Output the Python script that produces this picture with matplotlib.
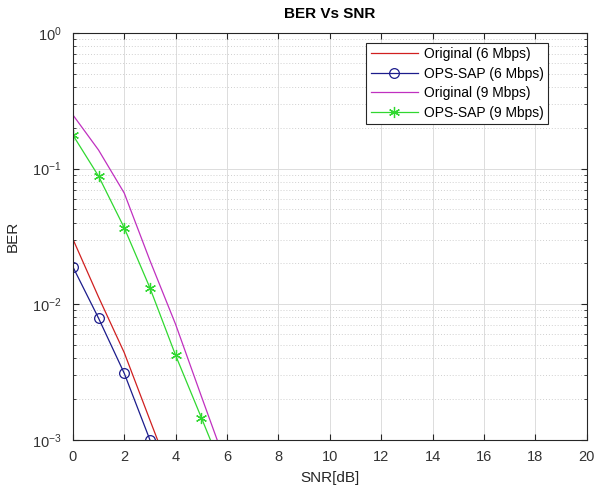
import matplotlib.pyplot as plt
from matplotlib.ticker import LogLocator, NullFormatter, FixedLocator

plt.rcParams['font.family'] = ['Liberation Sans', 'DejaVu Sans']
plt.rcParams['axes.unicode_minus'] = False
plt.rcParams['mathtext.fontset'] = 'custom'
plt.rcParams['mathtext.rm'] = 'Liberation Sans'

# SNR points (dB) and BER curves
snr = [0, 1, 2, 3, 4, 5, 6]
ber_orig_6 = [0.0303, 0.0113, 0.0044, 0.0014, 0.00045, 0.00015, 0.00005]
ber_ops_6 = [0.0189, 0.0079, 0.0031, 0.0010, 0.0003, 0.0001, 0.00003]
ber_orig_9 = [0.249, 0.137, 0.066, 0.021, 0.0071, 0.0021, 0.00063]
ber_ops_9 = [0.177, 0.088, 0.0366, 0.0132, 0.0042, 0.00146, 0.0005]

x_ticks = list(range(0, 21, 2))

fig = plt.figure(figsize=(5.97, 4.91), dpi=100)
ax = fig.add_axes([0.122, 0.104, 0.861, 0.829])

ax.semilogy(snr, ber_orig_6, color='#d02020', lw=0.9, label='Original (6 Mbps)')
ax.semilogy(snr, ber_ops_6, color='#1c1c8c', lw=0.9, marker='o', ms=7,
            mfc='none', mew=0.9, label='OPS-SAP (6 Mbps)')
ax.semilogy(snr, ber_orig_9, color='#c030c0', lw=0.9, label='Original (9 Mbps)')
ax.semilogy(snr, ber_ops_9, color='#30d830', lw=0.9, marker=(6, 2, 0), ms=8,
            mew=0.9, label='OPS-SAP (9 Mbps)')

ax.set_xlim(0, 20)
ax.set_ylim(1e-3, 1)
ax.xaxis.set_major_locator(FixedLocator(x_ticks))
ax.yaxis.set_major_locator(LogLocator(base=10, numticks=10))
ax.yaxis.set_minor_locator(LogLocator(base=10, subs=range(2, 10), numticks=10))
ax.yaxis.set_minor_formatter(NullFormatter())

ax.grid(True, which='major', color='#dcdcdc', lw=0.7, ls='-')
ax.grid(True, which='minor', axis='y', color='#d0d0d0', lw=0.7, ls=(0, (1, 2)))
ax.set_axisbelow(True)

ax.tick_params(which='both', direction='in', top=True, right=True,
               labelsize=10.5, labelcolor='#333333', color='#262626')
ax.tick_params(axis='x', which='major', pad=7)
ax.tick_params(axis='y', which='major', pad=8)
ax.tick_params(which='minor', length=2)
ax.tick_params(which='major', length=4)
for s in ax.spines.values():
    s.set_color('#262626')
    s.set_linewidth(0.8)

ax.set_xlabel('SNR[dB]', fontsize=11, color='#262626', labelpad=5)
ax.set_ylabel('BER', fontsize=11, color='#262626', labelpad=9)
ax.set_title('BER Vs SNR', fontsize=11, fontweight='bold', pad=11)

leg = ax.legend(loc='upper left', bbox_to_anchor=(0.571, 0.975), fontsize=10,
                fancybox=False, framealpha=1, edgecolor='#262626',
                handlelength=3.4, borderpad=0.3, labelspacing=0.4,
                handletextpad=0.45, borderaxespad=0)
leg.get_frame().set_linewidth(0.8)

fig.savefig('out.png', dpi=100)
